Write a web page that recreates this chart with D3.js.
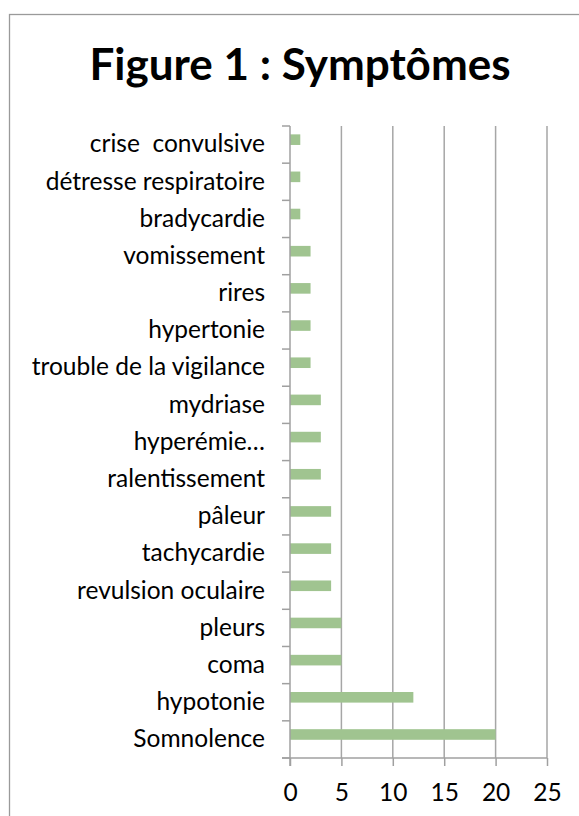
<!DOCTYPE html>
<html>
<head>
<meta charset="utf-8">
<script src="https://cdn.jsdelivr.net/npm/d3@7"></script>
<style>
  html, body { margin: 0; padding: 0; background: #ffffff; }
  svg { display: block; }
  text { font-family: Lato, "Open Sans", sans-serif; fill: #000; }
</style>
</head>
<body>
<svg id="chart" width="579" height="816"></svg>
<script>
const title = "Figure 1 : Symptômes";
const categories = [
  "crise  convulsive", "détresse respiratoire", "bradycardie", "vomissement",
  "rires", "hypertonie", "trouble de la vigilance", "mydriase", "hyperémie…",
  "ralentissement", "pâleur", "tachycardie", "revulsion oculaire", "pleurs",
  "coma", "hypotonie", "Somnolence"
];
const values = [1, 1, 1, 2, 2, 2, 2, 3, 3, 3, 4, 4, 4, 5, 5, 12, 20];
const xTicks = [0, 5, 10, 15, 20, 25];

(function () {
const svg = d3.select("#chart");

// outer frame
svg.append("rect")
  .attr("x", 9.5).attr("y", 14.5)
  .attr("width", 600).attr("height", 900)
  .attr("fill", "#fff").attr("stroke", "#9a9a9a").attr("stroke-width", 1.3);

svg.append("text")
  .attr("x", 300).attr("y", 80)
  .attr("text-anchor", "middle")
  .attr("font-weight", "bold")
  .attr("font-size", 44)
  .text(title);

const pL = 290, pR = 547, pT = 126, pB = 758;
const x = d3.scaleLinear().domain([0, 25]).range([pL, pR]);
const y = d3.scaleBand().domain(categories).range([pT, pB]).padding(0);
const bw = y.bandwidth();

// gridlines
svg.append("g").selectAll("line").data(xTicks.slice(1)).join("line")
  .attr("x1", d => x(d)).attr("x2", d => x(d))
  .attr("y1", pT).attr("y2", pB)
  .attr("stroke", "#a6a6a6").attr("stroke-width", 1.5);

// bars
svg.append("g").selectAll("rect").data(values).join("rect")
  .attr("x", x(0))
  .attr("y", (d, i) => y(categories[i]) + bw * 0.225)
  .attr("width", d => x(d) - x(0))
  .attr("height", bw * 0.285)
  .attr("fill", "#a0c490");

// x axis
const xAxis = d3.axisBottom(x).tickValues(xTicks).tickSize(8);
const gx = svg.append("g").attr("transform", `translate(0,${pB})`).call(xAxis);
gx.select(".domain").remove();
gx.selectAll(".tick line").attr("stroke", "#a0a0a0").attr("stroke-width", 1.5);
gx.selectAll(".tick text")
  .attr("y", 42.5).attr("dy", 0)
  .attr("font-size", 24.5).attr("font-family", "Lato, sans-serif").attr("fill", "#000");
svg.append("line").attr("x1", pL - 8).attr("x2", pR).attr("y1", pB).attr("y2", pB)
  .attr("stroke", "#a0a0a0").attr("stroke-width", 1.5);

// y axis
svg.append("line").attr("x1", pL).attr("x2", pL).attr("y1", pT).attr("y2", pB + 8)
  .attr("stroke", "#a0a0a0").attr("stroke-width", 1.5);
const bounds = categories.map(c => y(c)).concat([pB]);
svg.append("g").selectAll("line").data(bounds).join("line")
  .attr("x1", pL - 8).attr("x2", pL)
  .attr("y1", d => d).attr("y2", d => d)
  .attr("stroke", "#a0a0a0").attr("stroke-width", 1.5);

svg.append("g").selectAll("text").data(categories).join("text")
  .attr("x", 265)
  .attr("y", d => y(d) + bw / 2)
  .attr("dy", "0.32em")
  .attr("text-anchor", "end")
  .attr("font-size", 24.5)
  .style("white-space", "pre")
  .text(d => d);
})();
</script>
</body>
</html>
